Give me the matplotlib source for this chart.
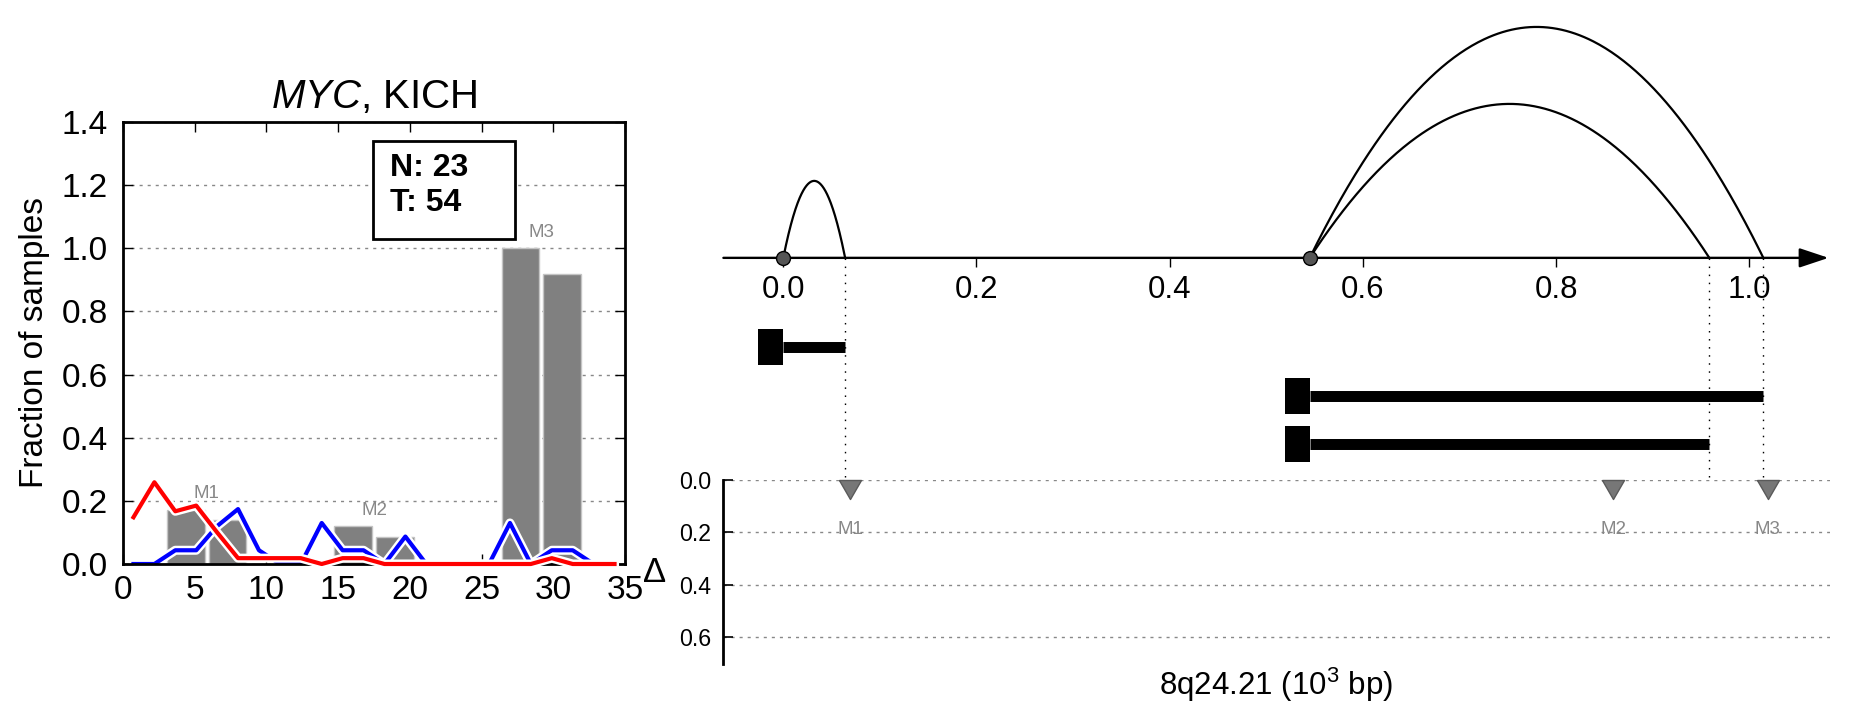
import numpy as np
import matplotlib
matplotlib.use("Agg")
import matplotlib.pyplot as plt
import matplotlib.patheffects as pe
from matplotlib.patches import Rectangle
from matplotlib.ticker import FormatStrFormatter

plt.rcParams["font.family"] = "Liberation Sans"
plt.rcParams["mathtext.fontset"] = "custom"
plt.rcParams["mathtext.rm"] = "Liberation Sans"
plt.rcParams["mathtext.it"] = "Liberation Sans:italic"

# ---- left panel: fraction of samples per site bin ----
x_max = 35
bar_heights = [0, 0.17, 0.14, 0, 0, 0.12, 0.085, 0, 0, 1.0, 0.92, 0]
tumor_frac = [0.148, 0.259, 0.167, 0.185, 0.10, 0.0185, 0.0185, 0.0185,
              0.0185, 0, 0.0185, 0.0185, 0, 0, 0, 0, 0, 0, 0, 0,
              0.0185, 0, 0, 0]
normal_frac = [0, 0, 0.0435, 0.0435, 0.12, 0.174, 0.0435, 0, 0, 0.13,
               0.0435, 0.0435, 0, 0.087, 0, 0, 0, 0, 0.13, 0, 0.0435,
               0.0435, 0, 0]
site_names = ["M1", "M2", "M3"]
site_bins = [1, 5, 9]
n_normal = 23
n_tumor = 54

# ---- right panel: transcripts, junction arcs, sites ----
tx_start = [0.0, 0.545, 0.545]
tx_end = [0.064, 1.0145, 0.9586]
arc_height = [1, 3, 2]
site_pos = [0.069, 0.859, 1.019]
site_delta = [0.0, 0.0, 0.0]
xticks_r = [0.0, 0.2, 0.4, 0.6, 0.8, 1.0]
delta_ticks = [0.0, 0.2, 0.4, 0.6]

W, H = 1851, 718
fig = plt.figure(figsize=(W / 100, H / 100), dpi=100)

def frac(x0, y0, x1, y1):
    return [x0 / W, (H - y1) / H, (x1 - x0) / W, (y1 - y0) / H]

grid_ls = (0, (2.2, 3.6))

# left histogram
ax = fig.add_axes(frac(123, 122, 625, 564))
edges = np.linspace(0, x_max, len(bar_heights) + 1)
centers = (edges[:-1] + edges[1:]) / 2
bw = edges[1] - edges[0]
ax.bar(centers, bar_heights, width=0.9 * bw, color="#808080",
       edgecolor="#c4c4c4", lw=1, zorder=1)
le = np.linspace(0, x_max, len(tumor_frac) + 1)
lx = (le[:-1] + le[1:]) / 2
ax.plot(lx, normal_frac, color="b", lw=3, zorder=2,
        path_effects=[pe.Stroke(linewidth=6.5, foreground="w"), pe.Normal()])
ax.plot(lx, tumor_frac, color="r", lw=3, zorder=3, clip_on=False,
        path_effects=[pe.Stroke(linewidth=6.5, foreground="w"), pe.Normal()])

for name, b in zip(site_names, site_bins):
    lo, hi = edges[b], edges[b + 2]
    top = max(bar_heights[b], bar_heights[b + 1],
              max(v for xv, v in zip(lx, normal_frac) if lo <= xv <= hi))
    ax.text(edges[b + 1], top + 0.05, name, color="#888888", fontsize=13.5,
            ha="center", va="center", zorder=4)

ax.set_xlim(0, x_max)
ax.set_ylim(0, 1.4)
ax.set_xticks(range(0, 36, 5))
ax.set_yticks(np.arange(0, 1.41, 0.2))
ax.yaxis.set_major_formatter(FormatStrFormatter("%.1f"))
ax.tick_params(direction="in", top=True, right=True, length=7, width=1,
               labelsize=24)
ax.tick_params(axis="x", pad=8)
ax.tick_params(axis="y", pad=11)
ax.set_axisbelow(True)
ax.yaxis.grid(True, color="#888888", ls=grid_ls, lw=1)
for s in ax.spines.values():
    s.set_linewidth(2)
ax.set_title(r"$\it{MYC}$, KICH", fontsize=29, pad=10)
ax.set_ylabel("Fraction of samples", fontsize=24, labelpad=8)

ax.add_patch(Rectangle((0.498, 0.735), 0.283, 0.222, transform=ax.transAxes,
                       fc="w", ec="k", lw=2, zorder=5))
ax.text(0.532, 0.857, f"N: {n_normal}\nT: {n_tumor}", transform=ax.transAxes,
        fontsize=23, fontweight="bold", ha="left", va="center", zorder=6)

# right: arcs and transcripts
xlim_r = (-0.062, 1.083)
axa = fig.add_axes(frac(723.4, 0, 1829.5, 478))
axa.set_xlim(*xlim_r)
axa.set_ylim(-2.86, 3.35)
for name in ["top", "right", "left", "bottom"]:
    axa.spines[name].set_visible(False)
axa.spines["bottom"].set_position(("data", 0))
axa.set_yticks([])
axa.set_xticks(xticks_r)
axa.xaxis.set_major_formatter(FormatStrFormatter("%.1f"))
axa.tick_params(axis="x", direction="out", length=6.5, width=1, pad=6,
                labelsize=22.5)
axa.annotate("", xy=(xlim_r[1] - 0.001, 0), xytext=(xlim_r[0], 0),
             arrowprops=dict(arrowstyle="-|>,head_length=1.8,head_width=0.6",
                             lw=1.7, color="k", shrinkA=0, shrinkB=0,
                             mutation_scale=10))

for s, e, h in zip(tx_start, tx_end, arc_height):
    xs = np.linspace(s, e, 300)
    ys = 4 * h * (xs - s) * (e - xs) / (e - s) ** 2
    axa.plot(xs, ys, color="k", lw=1.6)

starts = sorted(set(tx_start))
axa.plot(starts, [0] * len(starts), "o", ms=10, mfc="#555555", mec="k",
         mew=1, zorder=5)

block = [(-1.389, -1), (0, -1), (0, 1), (-1.389, 1), (-1.389, -1)]
for i, (s, e) in enumerate(zip(tx_start, tx_end)):
    y = -1.16 - 0.63 * i
    axa.plot([s, e], [y, y], color="k", lw=7.9, solid_capstyle="butt")
    axa.plot([s], [y], marker=block, ms=36, mfc="k", mec="k", mew=0,
             ls="none")

for e in tx_end:
    axa.plot([e, e], [0, -2.86], color="k", lw=1, ls=(0, (1.1, 4.7)))

# right: delta panel
axd = fig.add_axes(frac(723.4, 480, 1829.5, 664))
axd.set_xlim(*xlim_r)
axd.set_ylim(0.702, 0)
for name in ["top", "right", "bottom"]:
    axd.spines[name].set_visible(False)
axd.spines["left"].set_linewidth(2)
axd.set_xticks([])
axd.set_yticks(delta_ticks)
axd.yaxis.set_major_formatter(FormatStrFormatter("%.1f"))
axd.tick_params(axis="y", direction="in", length=7, width=1.2, pad=9,
                labelsize=16.7)
axd.yaxis.grid(True, color="#888888", ls=grid_ls, lw=1)
tri = [(-1, 0), (1, 0), (0, -1.73), (-1, 0)]
axd.plot(site_pos, site_delta, marker=tri, ls="none", ms=27.4,
         mfc="#777777", mec="#5a5a5a", mew=1, clip_on=False, zorder=4)
for name, p, d in zip(site_names, site_pos, site_delta):
    axd.text(p, d + 0.19, name, color="#888888", fontsize=13.5,
             ha="center", va="center")
axd.set_ylabel("Δ", rotation=0, fontsize=25, ha="center", va="center")
axd.yaxis.set_label_coords(-0.062, 0.50)
axd.set_xlabel(r"8q24.21 (10$^3$ bp)", fontsize=22.5, labelpad=1)

fig.savefig("out.png", dpi=100)
